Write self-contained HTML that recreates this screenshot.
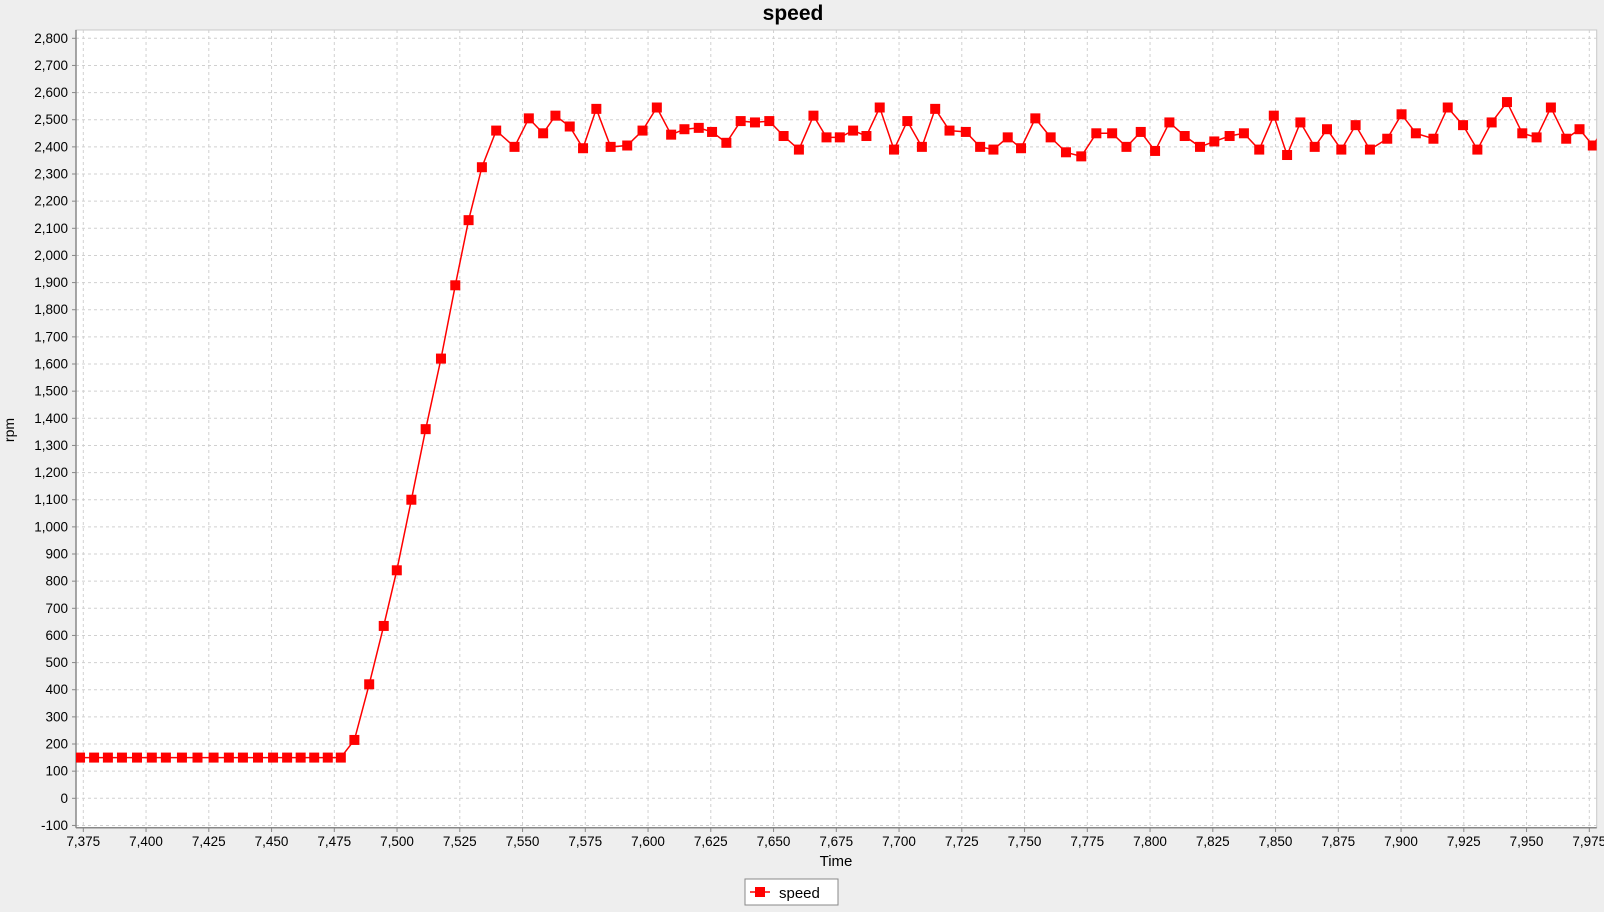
<!DOCTYPE html>
<html><head><meta charset="utf-8"><style>
body{margin:0;background:#eeeeee;}
svg text{font-family:"Liberation Sans",sans-serif;}
</style></head><body>
<svg id="chart" width="1604" height="907" xmlns="http://www.w3.org/2000/svg">
<text x="793" y="20" text-anchor="middle" font-size="21" font-weight="bold">speed</text>
<rect x="76" y="30" width="1520.7" height="797.7" fill="#fff" stroke="#c8c8c8"/>
<g id="grid"></g>
<g id="axes"></g>
<g id="series" clip-path="url(#clip)"></g>
<defs><clipPath id="clip"><rect x="76" y="30" width="1520.7" height="797.7"/></clipPath></defs>
<text transform="translate(14,430) rotate(-90)" text-anchor="middle" font-size="14">rpm</text>
<text x="836" y="866" text-anchor="middle" font-size="15">Time</text>
<g>
<rect x="745" y="879" width="93" height="26" fill="#fff" stroke="#888"/>
<line x1="750" y1="892" x2="770" y2="892" stroke="#f00" stroke-width="1.5"/>
<rect x="755" y="887" width="10" height="10" fill="#f00"/>
<text x="779" y="898" font-size="15">speed</text>
</g>
</svg>
<script>
const times=[7373.7,7379.3,7384.8,7390.4,7396.4,7402.3,7407.9,7414.3,7420.5,7426.9,7433.0,7438.6,7444.6,7450.6,7456.2,7461.6,7467.0,7472.4,7477.6,7483.0,
7488.9,7494.7,7499.9,7505.7,7511.4,7517.5,7523.2,7528.5,7533.8,7539.5,7546.8,7552.5,7558.2,7563.1,7568.8,7574.1,7579.4,7585.1,7591.7,7597.8,
7603.5,7609.2,7614.5,7620.2,7625.5,7631.2,7636.9,7642.6,7648.3,7654.0,7660.1,7665.9,7671.1,7676.4,7681.7,7687.0,7692.3,7698.0,7703.3,7709.1,
7714.4,7720.1,7726.6,7732.3,7737.6,7743.3,7748.6,7754.3,7760.4,7766.5,7772.6,7778.6,7784.9,7790.6,7796.3,7802.0,7807.7,7813.8,7819.9,7825.6,
7831.7,7837.4,7843.5,7849.3,7854.6,7859.9,7865.6,7870.5,7876.2,7881.9,7887.6,7894.5,7900.2,7905.9,7912.9,7918.6,7924.7,7930.4,7936.1,7942.2,
7948.3,7954.0,7959.7,7965.8,7971.1,7976.4,7981.7];
const speeds=[150,150,150,150,150,150,150,150,150,150,150,150,150,150,150,150,150,150,150,215,
420,635,840,1100,1360,1620,1890,2130,2325,2460,2400,2505,2450,2515,2475,2395,2540,2400,2405,2460,
2545,2445,2465,2470,2455,2415,2495,2490,2495,2440,2390,2515,2435,2435,2460,2440,2545,2390,2495,2400,
2540,2460,2455,2400,2390,2435,2395,2505,2435,2380,2365,2450,2450,2400,2455,2385,2490,2440,2400,2420,
2440,2450,2390,2515,2370,2490,2400,2465,2390,2480,2390,2430,2520,2450,2430,2545,2480,2390,2490,2565,
2450,2435,2545,2430,2465,2405,2480];
const xTicks=[7375,7400,7425,7450,7475,7500,7525,7550,7575,7600,7625,7650,7675,7700,7725,7750,7775,7800,7825,7850,7875,7900,7925,7950,7975];
const yTicks=[-100,0,100,200,300,400,500,600,700,800,900,1000,1100,1200,1300,1400,1500,1600,1700,1800,1900,2000,2100,2200,2300,2400,2500,2600,2700,2800];
const NS='http://www.w3.org/2000/svg';
const X=t=>83.3+(t-7375)*62.75/25;
const Y=v=>798.3-v*0.27143;
const fmt=n=>n.toLocaleString('en-US');
function mk(tag,attrs,parent){const e=document.createElementNS(NS,tag);for(const k in attrs)e.setAttribute(k,attrs[k]);parent.appendChild(e);return e;}
const grid=document.getElementById('grid'),axes=document.getElementById('axes'),ser=document.getElementById('series');
xTicks.forEach(t=>{const x=X(t);
 const g=mk('line',{x1:x,x2:x,y1:30,y2:827.7,stroke:'#d0d0d0','stroke-dasharray':'3,3'},grid);
 
 
 mk('line',{x1:x,x2:x,y1:827.7,y2:832,stroke:'#888'},axes);
 const l=mk('text',{x:x,y:846,'text-anchor':'middle','font-size':'13.5'},axes);l.textContent=fmt(t);
 
 
});
yTicks.forEach(v=>{const y=Y(v);
 const g=mk('line',{x1:76,x2:1596.7,y1:y,y2:y,stroke:'#d0d0d0','stroke-dasharray':'3,3'},grid);
 
 
 mk('line',{x1:72,x2:76,y1:y,y2:y,stroke:'#888'},axes);
 const l=mk('text',{x:68,y:y+4.5,'text-anchor':'end','font-size':'13.5'},axes);l.textContent=fmt(v);
 
 
});
mk('line',{x1:76,x2:76,y1:30,y2:827.7,stroke:'#888','stroke-width':1.5},axes);
mk('line',{x1:76,x2:1596.7,y1:827.7,y2:827.7,stroke:'#888','stroke-width':1.5},axes);
const pts=times.map((t,i)=>X(t).toFixed(1)+','+Y(speeds[i]).toFixed(1)).join(' ');
const pl=mk('polyline',{points:pts,fill:'none',stroke:'#f00','stroke-width':1.5},ser);


times.forEach((t,i)=>{
 const r=mk('rect',{x:X(t)-5,y:Y(speeds[i])-5,width:10,height:10,fill:'#f00'},ser);
 
 
});
</script>
</body></html>
